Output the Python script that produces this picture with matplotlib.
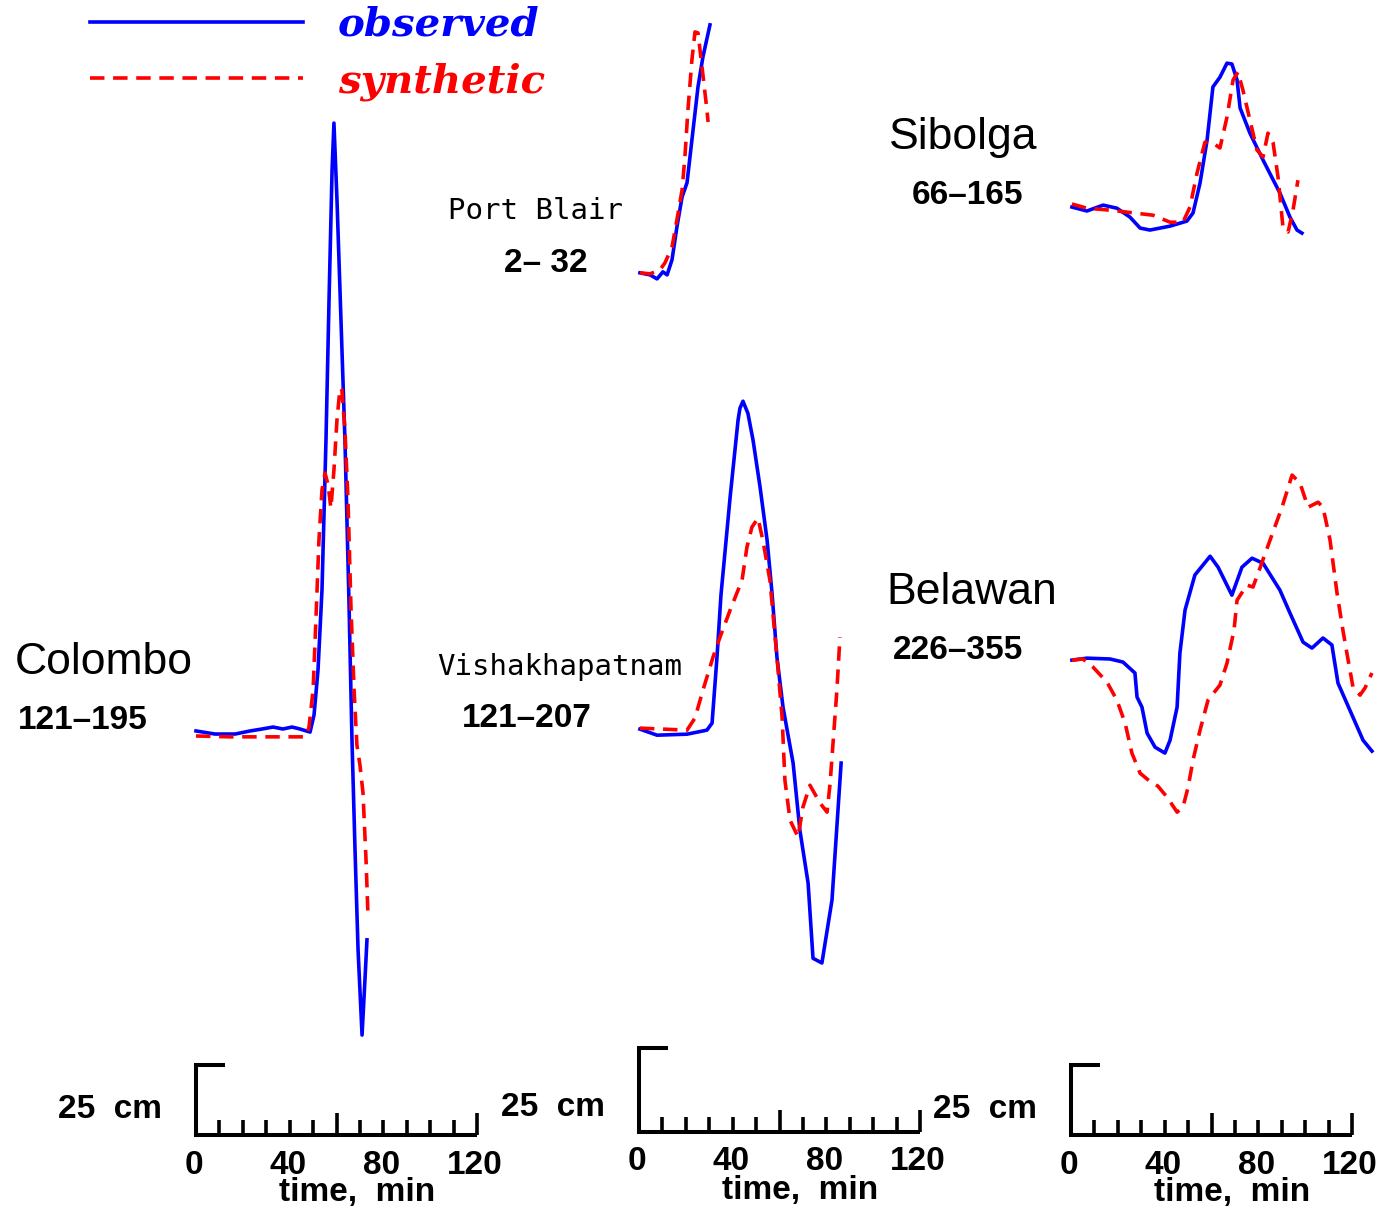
import matplotlib.pyplot as plt
import numpy as np

W, H = 1387, 1211
BLUE = '#0000ff'
RED = '#ff0000'

# ---- data: time in minutes, sea level in cm relative to the first reading ----
colombo_obs_t = [0, 8.1, 16.7, 23.1, 28.2, 32.9, 37.1, 41.0, 44.4, 48.7, 50.4, 52.1, 53.8, 55.5,
                 56.8, 58.1, 58.9, 60.2, 61.9, 63.6, 65.3, 66.6, 67.9, 69.2, 70.9, 72.2, 73.0]
colombo_obs_h = [0, -1.1, -1.1, 0, 0.7, 1.4, 0.7, 1.4, 0.7, -0.4, 5.7, 21.8, 50.4, 103.9,
                 153.9, 200.4, 217.1, 189.6, 146.8, 103.9, 46.8, -3.2, -42.5, -78.2, -108.6, -87.9, -74.6]
colombo_syn_t = [0, 14.5, 31.6, 46.5, 48.2, 50.0, 51.2, 52.5, 53.8, 55.1, 56.4, 57.6, 58.9, 60.2,
                 61.5, 62.3, 63.6, 64.9, 66.2, 67.5, 68.7, 70.0, 71.3, 72.6, 73.4]
colombo_syn_h = [-1.8, -2.1, -2.1, -2.1, 1.1, 14.6, 39.6, 68.2, 86.1, 92.1, 87.9, 79.6, 93.2, 111.1,
                 122.5, 121.8, 107.5, 82.5, 43.2, 14.6, -5.0, -12.1, -22.1, -46.1, -65.0]

portblair_obs_t = [0.4, 4.7, 7.7, 10.2, 12.0, 14.1, 16.2, 18.4, 20.5, 22.6, 25.2, 27.3, 30.3]
portblair_obs_h = [-0.3, -0.9, -2.1, 0, -0.9, 3.6, 13.4, 22.3, 26.5, 39.3, 55.1, 64.0, 73.5]
portblair_syn_t = [0.4, 4.7, 9.0, 11.1, 14.1, 16.2, 18.4, 19.6, 20.9, 22.6, 23.9, 25.2, 26.9, 29.0, 29.5]
portblair_syn_h = [-0.3, -0.6, 0.6, 2.7, 7.4, 15.5, 24.4, 34.2, 48.2, 63.1, 71.4, 71.1, 61.0, 48.2, 44.6]

vishak_obs_t = [0.4, 7.7, 20.5, 29.0, 31.2, 33.3, 35.0, 38.9, 42.3, 43.1, 44.4, 46.5, 48.7, 51.7, 54.7,
                56.8, 58.9, 61.5, 65.8, 68.7, 72.2, 74.3, 78.1, 82.4, 86.3]
vishak_obs_h = [0.3, -1.5, -1.2, 0, 2.1, 21.7, 40.2, 69.3, 92.3, 95.8, 97.9, 94.3, 86.3, 72.3, 56.5,
                40.8, 21.7, 6.8, -9.8, -29.8, -45.5, -67.9, -69.3, -50.6, -9.8]
vishak_syn_t = [0.4, 20.5, 23.9, 27.3, 31.6, 34.6, 38.9, 42.3, 44.0, 46.1, 48.2, 50.8, 52.9, 55.9,
                58.9, 61.1, 62.3, 64.5, 67.9, 70.0, 73.0, 77.3, 80.3, 81.6, 84.5, 85.8]
vishak_syn_h = [0.6, 0, 3.6, 11.9, 21.7, 27.7, 35.7, 41.7, 44.6, 54.5, 60.4, 63.1, 56.5, 44.6,
                21.7, 3.9, -14.9, -26.8, -31.8, -22.9, -16.4, -21.7, -24.4, -15.8, 11.9, 27.7]

sibolga_obs_t = [0.4, 6.8, 13.7, 19.6, 25.2, 29.5, 33.7, 42.3, 49.5, 52.1, 55.1, 58.1, 60.6, 63.6,
                 66.6, 68.7, 70.9, 72.2, 76.4, 82.0, 89.2, 93.5, 96.5, 98.6]
sibolga_obs_h = [0, -1.4, 0.7, -0.4, -3.6, -7.5, -8.2, -6.8, -5.0, -2.1, 8.6, 23.9, 42.9, 46.4,
                 51.4, 51.1, 45.4, 35.4, 26.4, 16.8, 5.0, -3.6, -8.2, -9.3]
sibolga_syn_t = [0.4, 6.8, 16.7, 23.9, 35.0, 42.3, 47.8, 50.8, 53.8, 57.2, 60.6, 63.6, 66.6, 69.2,
                 71.3, 73.4, 76.4, 79.4, 82.0, 84.1, 86.3, 88.4, 90.5, 92.7, 94.8, 96.9]
sibolga_syn_h = [1.1, -0.4, -1.1, -1.8, -2.9, -5.4, -5.4, 0, 12.1, 23.2, 22.9, 21.1, 32.1, 45.4,
                 48.2, 41.8, 31.1, 20.4, 17.9, 26.4, 22.9, 10.7, -7.1, -8.9, -1.1, 9.6]

belawan_obs_t = [0.4, 6.8, 16.7, 22.2, 27.3, 28.2, 30.3, 32.5, 35.9, 40.1, 42.3, 45.3, 46.5, 48.7,
                 52.9, 59.4, 62.8, 68.7, 73.0, 77.3, 82.0, 89.2, 93.5, 99.1, 102.9, 107.6, 111.4,
                 114.0, 120.4, 124.7, 128.5]
belawan_obs_h = [0, 0.7, 0.4, -0.7, -4.6, -13.2, -16.8, -26.1, -31.1, -33.2, -28.6, -16.8, 2.5, 17.9,
                 30.4, 37.1, 33.2, 23.2, 33.2, 36.4, 34.6, 25.0, 16.8, 6.4, 4.3, 7.9, 5.4,
                 -8.2, -20.4, -28.6, -32.5]
belawan_syn_t = [0.4, 5.1, 9.4, 15.4, 19.6, 23.1, 26.0, 29.5, 34.6, 37.1, 41.0, 45.3, 47.8, 50.0,
                 52.1, 55.1, 58.5, 63.6, 66.6, 69.6, 70.9, 75.1, 77.7, 80.7, 85.0, 90.1, 94.4, 97.8,
                 101.2, 105.5, 107.6, 110.6, 113.6, 116.1, 117.8, 120.4, 123.4, 125.5, 128.5]
belawan_syn_h = [0, 0.4, -2.5, -7.9, -14.3, -22.5, -33.2, -40.4, -43.9, -45.0, -48.9, -54.3, -52.5, -45.4,
                 -35.7, -25.0, -14.3, -8.9, -1.1, 10.7, 21.4, 26.8, 26.1, 32.9, 42.9, 54.6, 66.1, 63.2,
                 54.6, 56.4, 54.6, 42.9, 23.9, 10.7, 2.5, -9.6, -12.5, -10.0, -4.6]

names = ['Colombo', 'Port Blair', 'Vishakhapatnam', 'Sibolga', 'Belawan']
windows = ['121\u2013195', '2\u2013 32', '121\u2013207', '66\u2013165', '226\u2013355']

# ---- layout ----
PX_PER_MIN = 2.342
# scale bar origin (pixels) and vertical pixels per cm for each column
columns = [(196, 1135, 2.8), (639, 1132, 3.36), (1071, 1135, 2.8)]

# column, trace baseline (cm above scale bar), name xy, window xy, mono font?
stations = [
    (0, 144.3, (-39.3, 168.9), (-48.2, 147.9), False),
    (1, 256.0, (-44.4, 274.1), (-39.7, 258.6), True),
    (1, 119.6, (-33.7, 138.4), (-47.8, 123.2), True),
    (2, 331.4, (-46.1, 356.4), (-44.0, 335.7), False),
    (2, 169.6, (-42.3, 193.9), (-48.2, 173.2), False),
]
traces = [
    (colombo_obs_t, colombo_obs_h, colombo_syn_t, colombo_syn_h),
    (portblair_obs_t, portblair_obs_h, portblair_syn_t, portblair_syn_h),
    (vishak_obs_t, vishak_obs_h, vishak_syn_t, vishak_syn_h),
    (sibolga_obs_t, sibolga_obs_h, sibolga_syn_t, sibolga_syn_h),
    (belawan_obs_t, belawan_obs_h, belawan_syn_t, belawan_syn_h),
]

fig = plt.figure(figsize=(W / 100, H / 100), dpi=100)

sans = ['Liberation Sans', 'DejaVu Sans']
mono = ['DejaVu Sans Mono']

axes = []
for ox, oy, pxcm in columns:
    ax = fig.add_axes([0, 0, 1, 1])
    ax.set_xlim(-ox / PX_PER_MIN, (W - ox) / PX_PER_MIN)
    ax.set_ylim(-(H - oy) / pxcm, oy / pxcm)
    ax.axis('off')
    ax.patch.set_alpha(0)
    axes.append(ax)

    # scale bar: 25 cm and a 0-120 min time axis
    ax.plot([12.4, 0, 0, 120], [25, 25, 0, 0], color='k', lw=2.9,
            solid_joinstyle='miter', solid_capstyle='butt')
    for m in range(10, 121, 10):
        tick = (22 if m % 60 == 0 else 15) / pxcm
        ax.plot([m, m], [0, tick], color='k', lw=2.6, solid_capstyle='butt')
    for v in [0, 40, 80, 120]:
        ax.annotate(str(v), xy=(v, 0), xytext=(-2, -30), textcoords='offset pixels',
                    ha='center', va='center', fontsize=24, fontweight='bold', family=sans)
    ax.annotate('time,  min', xy=(69, 0), xytext=(0, -58), textcoords='offset pixels',
                ha='center', va='center', fontsize=24, fontweight='bold', family=sans)
    ax.annotate('25  cm', xy=(0, 0), xytext=(-34, 25), textcoords='offset pixels',
                ha='right', va='center', fontsize=24, fontweight='bold', family=sans)

handles = None
for (col, base, name_xy, win_xy, is_mono), (ot, oh, st, sh), name, win in zip(stations, traces, names, windows):
    ax = axes[col]
    l1, = ax.plot(ot, np.array(oh) + base, color=BLUE, lw=2.6, solid_joinstyle='round', clip_on=False)
    l2, = ax.plot(st, np.array(sh) + base, color=RED, lw=2.6, dashes=(4.0, 2.4), clip_on=False)
    if handles is None:
        handles = [l1, l2]
    if is_mono:
        ax.text(*name_xy, name, ha='center', va='center', fontsize=21, family=mono)
    else:
        ax.text(*name_xy, name, ha='center', va='center', fontsize=32, family=sans)
    ax.text(*win_xy, win, ha='center', va='center', fontsize=24, fontweight='bold', family=sans)

fig.legend(handles, ['observed', 'synthetic'], loc='upper left',
           bbox_to_anchor=(90 / W, 1 - 6 / H), frameon=False, borderpad=0, borderaxespad=0,
           handlelength=5.3, handletextpad=0.85, labelspacing=0.45,
           labelcolor=[BLUE, RED],
           prop=dict(family='DejaVu Serif', style='italic', weight='bold', size=29))

fig.savefig('out.png', dpi=100)
